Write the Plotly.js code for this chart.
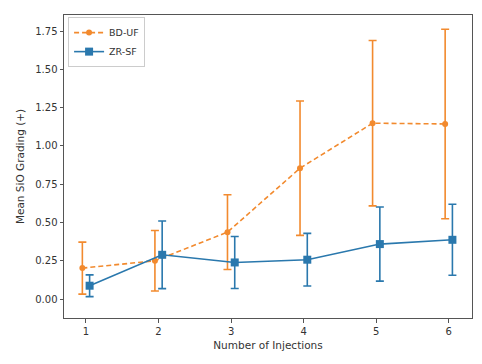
<!DOCTYPE html>
<html>
<head>
<meta charset="utf-8">
<script src="https://cdn.plot.ly/plotly-3.0.1.min.js"></script>
<style>html,body{margin:0;padding:0;background:#fff;}#chart{width:482px;height:364px;}</style>
</head>
<body>
<div id="chart"></div>
<script>
const injections = [1, 2, 3, 4, 5, 6];
const bdufMean = [0.202, 0.250, 0.437, 0.855, 1.149, 1.144];
const bdufErr  = [0.170, 0.198, 0.244, 0.439, 0.540, 0.619];
const zrsfMean = [0.087, 0.289, 0.239, 0.257, 0.359, 0.387];
const zrsfErr  = [0.071, 0.221, 0.170, 0.172, 0.242, 0.232];
const tickVals = [0, 0.25, 0.5, 0.75, 1.0, 1.25, 1.5, 1.75];
const tickText = ["0.00", "0.25", "0.50", "0.75", "1.00", "1.25", "1.50", "1.75"];
const offset = 0.05;

const traces = [
  {
    name: "BD-UF",
    x: injections.map(v => v - offset),
    y: bdufMean,
    type: "scatter",
    mode: "lines+markers",
    line: {color: "#f28a2e", width: 1.6, dash: "5px,3px"},
    marker: {color: "#f28a2e", size: 6, symbol: "circle"},
    error_y: {type: "data", array: bdufErr, visible: true, color: "#f28a2e", thickness: 1.6, width: 4}
  },
  {
    name: "ZR-SF",
    x: injections.map(v => v + offset),
    y: zrsfMean,
    type: "scatter",
    mode: "lines+markers",
    line: {color: "#2a78ad", width: 1.6},
    marker: {color: "#2a78ad", size: 8, symbol: "square"},
    error_y: {type: "data", array: zrsfErr, visible: true, color: "#2a78ad", thickness: 1.6, width: 4}
  }
];

const layout = {
  width: 482, height: 364,
  margin: {l: 64, r: 10, t: 15, b: 46},
  paper_bgcolor: "#fff", plot_bgcolor: "#fff",
  font: {family: "DejaVu Sans", size: 10, color: "#333"},
  showlegend: true,
  legend: {x: 0.01, y: 0.993, xanchor: "left", yanchor: "top", bgcolor: "#fff", bordercolor: "#ccc", borderwidth: 1, font: {size: 9.5, color: "#333"}, tracegroupgap: 0, itemwidth: 30},
  xaxis: {
    range: [0.697, 6.32], tickvals: injections, ticktext: injections.map(String),
    showgrid: false, zeroline: false, showline: true, mirror: true, linecolor: "#555", linewidth: 1,
    ticks: "outside", ticklen: 3.5, tickcolor: "#555",
    title: {text: "Number of Injections", font: {size: 10.5, color: "#333"}, standoff: 6}
  },
  yaxis: {
    range: [-0.124, 1.856], tickvals: tickVals, ticktext: tickText,
    showgrid: false, zeroline: false, showline: true, mirror: true, linecolor: "#555", linewidth: 1,
    ticks: "outside", ticklen: 3.5, tickcolor: "#555",
    title: {text: "Mean SiO Grading (+)", font: {size: 10.5, color: "#333"}, standoff: 8}
  }
};

Plotly.newPlot("chart", traces, layout, {displayModeBar: false, staticPlot: true});
</script>
</body>
</html>
